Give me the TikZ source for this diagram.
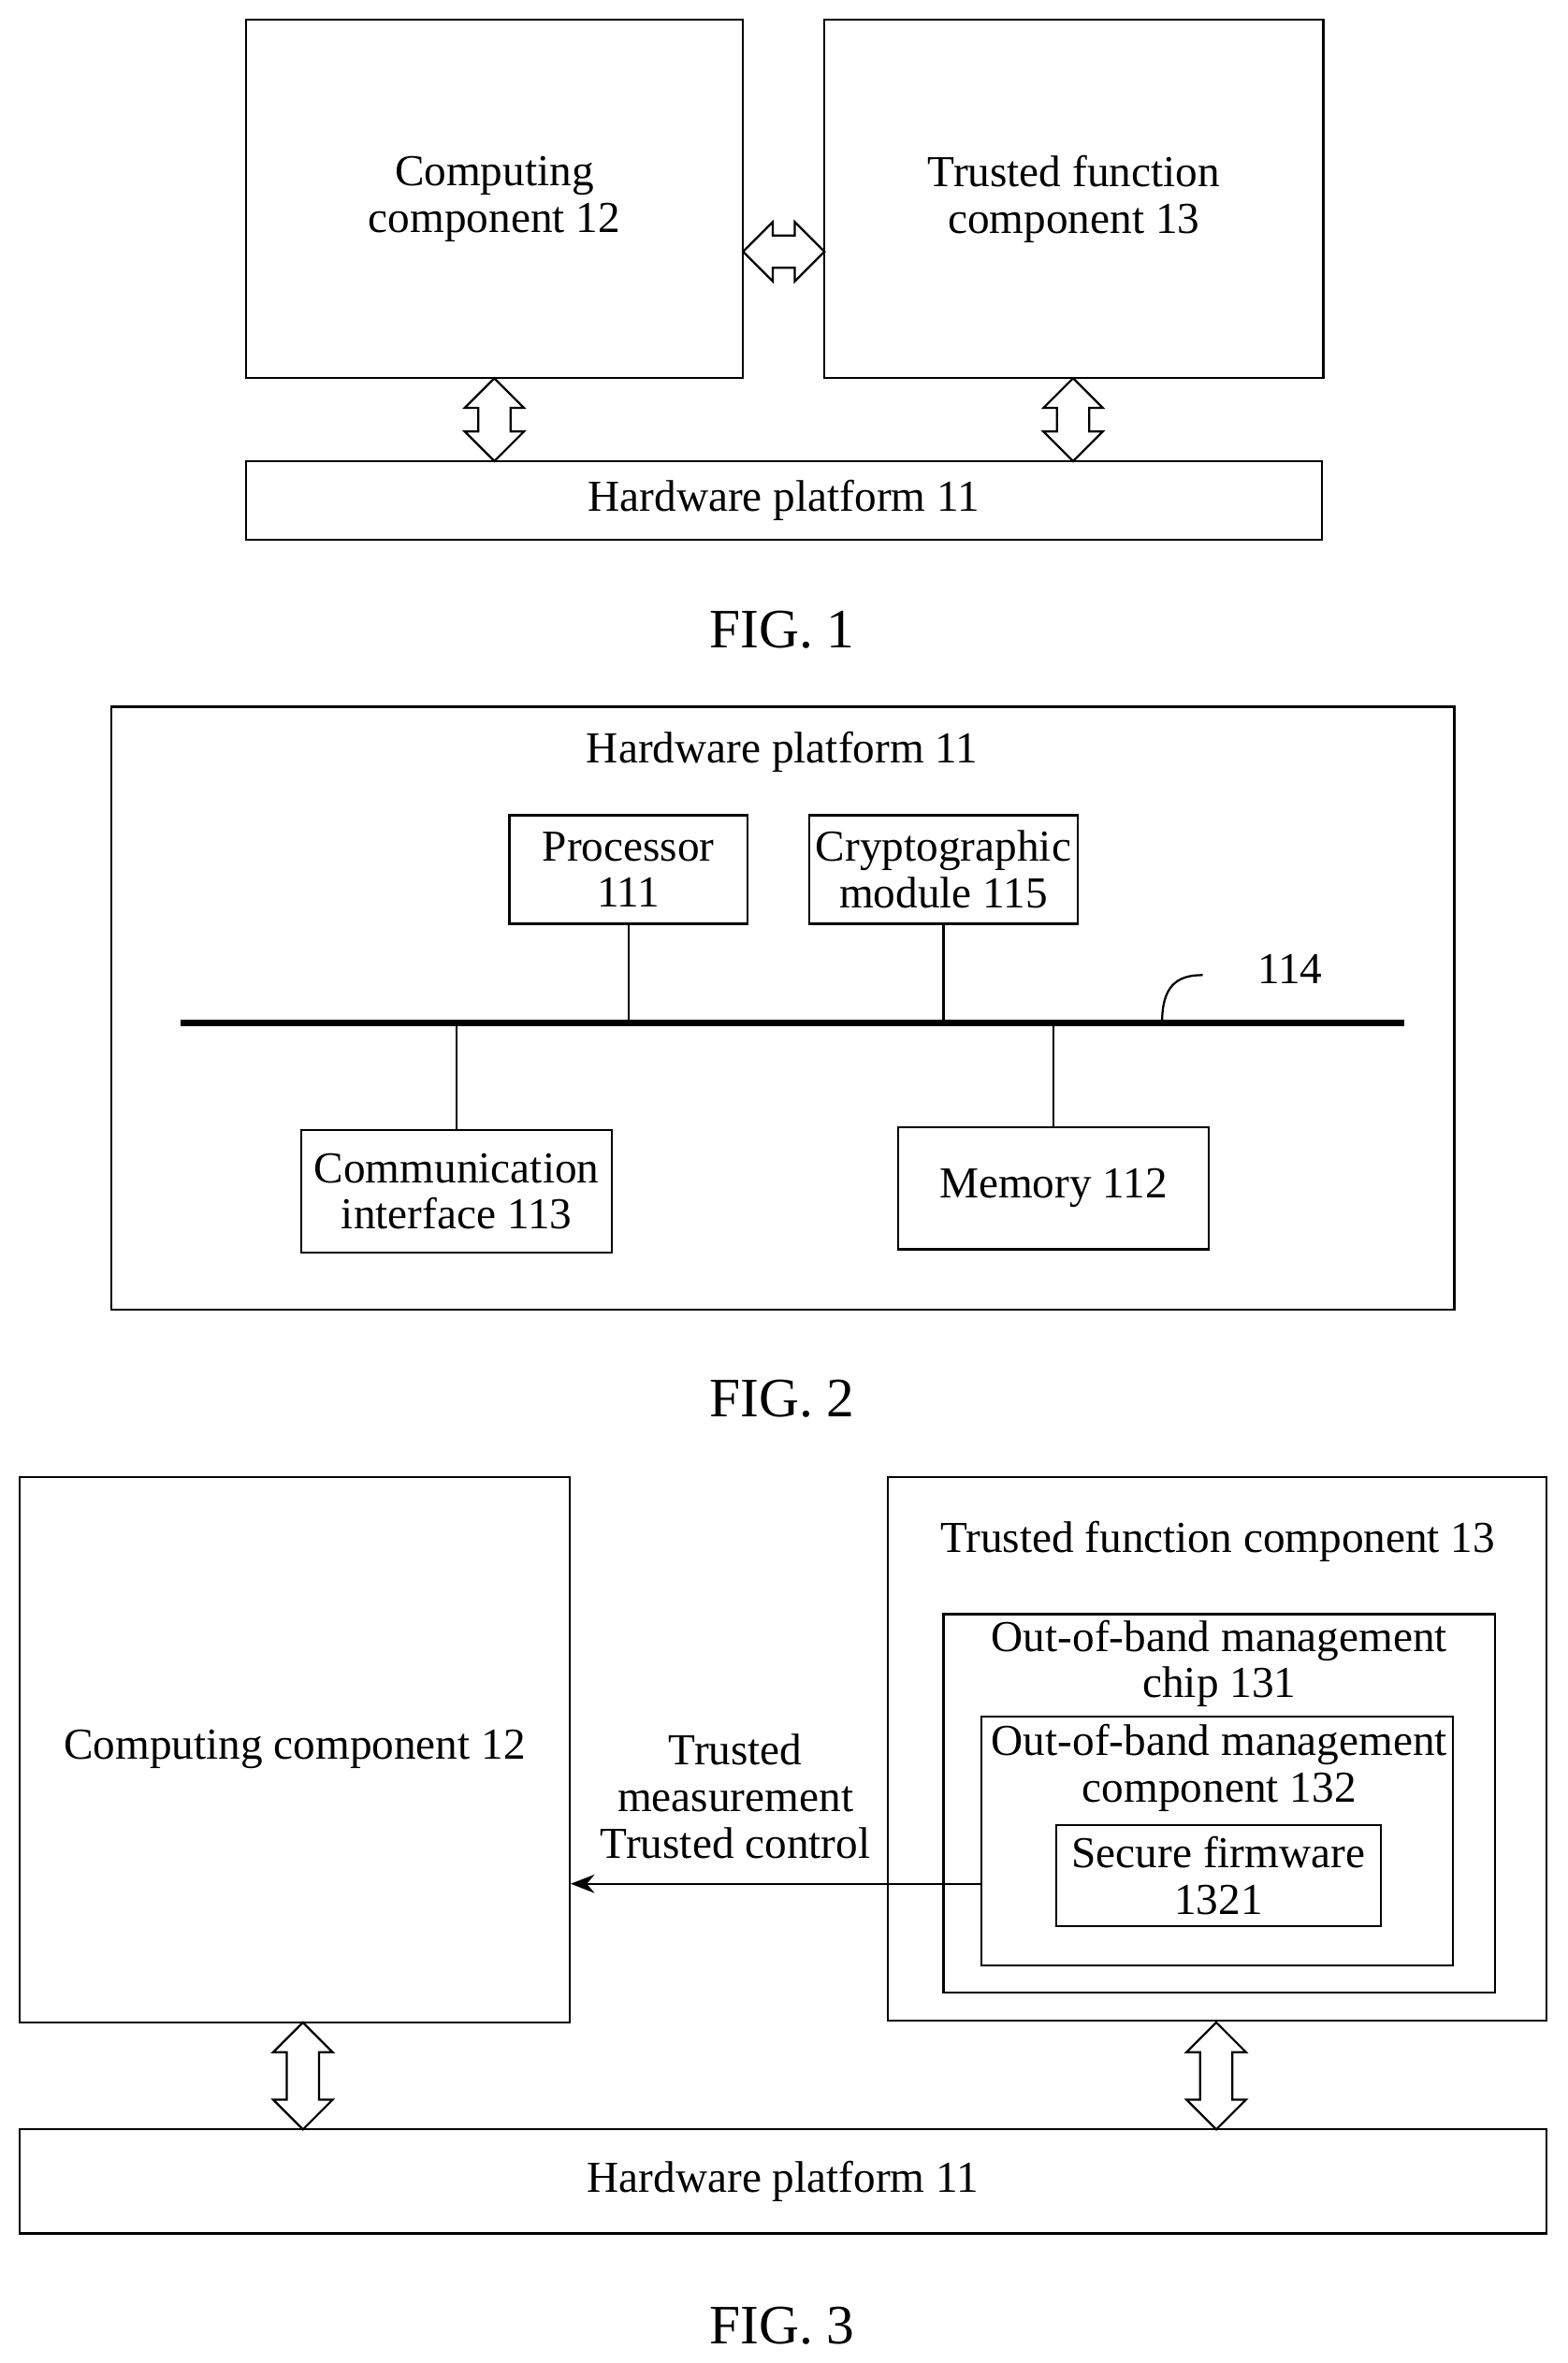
\documentclass[tikz,border=0pt]{standalone}
\usepackage{fontspec}
\setmainfont{Liberation Serif}
\usetikzlibrary{shapes.arrows,arrows.meta}
\begin{document}
\begin{tikzpicture}[x=0.02cm,y=-0.02cm,
		every node/.style={font=\fontsize{16.7}{17.5}\selectfont,align=center},
		box/.style={draw,thick,inner sep=0pt},
		dbl/.style={draw,thick,fill=white,double arrow,minimum width=0.76cm,
			double arrow head extend=0.18cm,inner xsep=0pt,inner ysep=0.2cm},
		figlabel/.style={font=\fontsize{21}{23}\selectfont}]
		\useasboundingbox (0,0) rectangle (1040,1568);
		
		% FIG. 1
		\node[box,minimum width=6.6cm,minimum height=4.76cm] (comp1) at (328,132) {Computing\\component 12};
		\node[box,minimum width=6.62cm,minimum height=4.76cm] (trust1) at (712.5,132) {Trusted function\\component 13};
		\node[box,minimum width=14.28cm,minimum height=1.04cm] (hw1) at (520,332) {Hardware platform 11};
		\node[dbl,minimum height=1.08cm] (a12) at (520,167) {};
		\node[dbl,minimum height=1.1cm,rotate=90] (a11) at (328,278.5) {};
		\node[dbl,minimum height=1.1cm,rotate=90] (a13) at (712,278.5) {};
		\node[figlabel] (fig1) at (519,418) {FIG. 1};
		
		% FIG. 2
		\node[box,minimum width=17.82cm,minimum height=8cm] (hw2) at (519.5,669) {};
		\node (hwtitle) at (519,499) {Hardware platform 11};
		\node[box,minimum width=3.16cm,minimum height=1.44cm] (proc) at (417,577) {Processor\\111};
		\node[box,minimum width=3.56cm,minimum height=1.44cm] (crypto) at (626,577) {Cryptographic\\module 115};
		\node[box,minimum width=4.12cm,minimum height=1.62cm] (comm) at (303,790.5) {Communication\\interface 113};
		\node[box,minimum width=4.12cm,minimum height=1.62cm] (mem) at (699,788.5) {Memory 112};
		\coordinate (busL) at (120,679);
		\coordinate (busR) at (932,679);
		\draw[line width=2.5pt] (busL) -- (busR);
		\draw[thick] (proc.south) -- (proc.south |- busL);
		\draw[thick] (crypto.south) -- (crypto.south |- busL);
		\draw[thick] (comm.north) -- (comm.north |- busL);
		\draw[thick] (mem.north) -- (mem.north |- busL);
		\node (bus) at (856,643) {114};
		\coordinate (busref) at (771,679);
		\draw[thick] (busref) .. controls (771,655) and (780,647) .. (798,647);
		\node[figlabel] (fig2) at (519,928) {FIG. 2};
		
		% FIG. 3
		\node[box,minimum width=7.3cm,minimum height=7.24cm] (comp3) at (195.5,1161) {Computing component 12};
		\node[box,minimum width=8.74cm,minimum height=7.22cm] (trust3) at (807.5,1160.5) {};
		\node (trusttitle) at (808,1023) {Trusted function component 13};
		\node[box,minimum width=7.32cm,minimum height=5.02cm] (chip) at (809,1196.5) {};
		\node (chiptitle) at (809,1104) {Out-of-band management\\chip 131};
		\node[box,minimum width=6.26cm,minimum height=3.3cm] (oob) at (807.5,1221.5) {};
		\node (oobtitle) at (809,1173) {Out-of-band management\\component 132};
		\node[box,minimum width=4.3cm,minimum height=1.34cm] (fw) at (808.5,1244.5) {Secure firmware\\1321};
		\coordinate (oobL) at (651,1250);
		\draw[thick,-{Stealth[length=9pt,width=7pt]}] (oobL) -- (oobL -| comp3.east);
		\node (meas) at (488,1192) {Trusted\\measurement\\Trusted control};
		\node[box,minimum width=20.26cm,minimum height=1.38cm] (hw3) at (519.5,1447.5) {Hardware platform 11};
		\node[dbl,minimum height=1.42cm,rotate=90] (a31) at (201,1377.5) {};
		\node[dbl,minimum height=1.42cm,rotate=90] (a33) at (807,1377.5) {};
		\node[figlabel] (fig3) at (519,1543) {FIG. 3};
\end{tikzpicture}
\end{document}
